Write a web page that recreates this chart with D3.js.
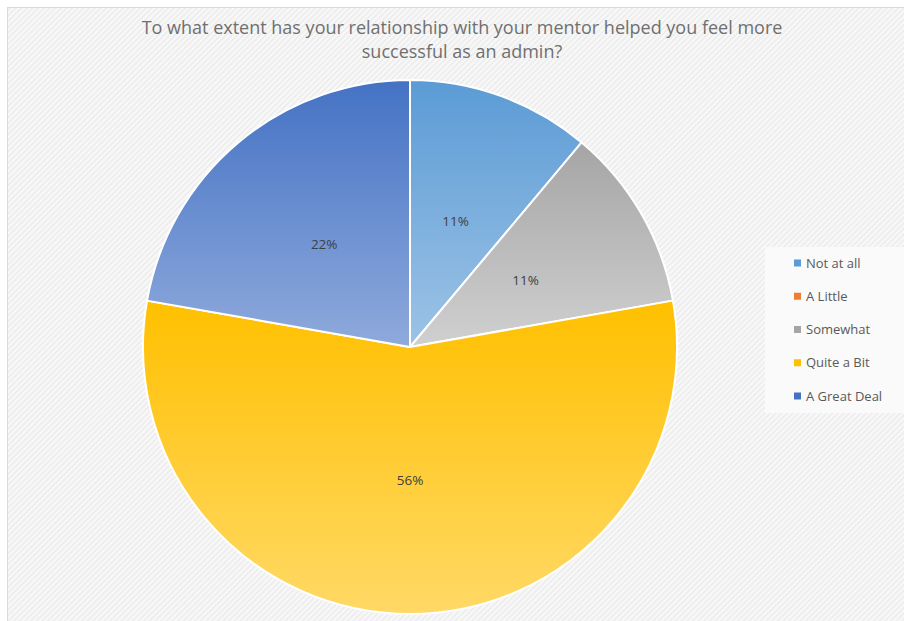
<!DOCTYPE html>
<html>
<head>
<meta charset="utf-8">
<script src="https://cdn.jsdelivr.net/npm/d3@7"></script>
<style>
  body { margin: 0; background: #fff; }
  svg { display: block; }
</style>
</head>
<body>
<svg id="chart"></svg>
<script>
// Survey pie: mentor relationship and feeling successful as an admin
var categories = ['Not at all', 'A Little', 'Somewhat', 'Quite a Bit', 'A Great Deal'];
var counts = [1, 0, 1, 5, 2];
var colorsTop = ['#5B9BD5', '#ED7D31', '#A5A5A5', '#FFC000', '#4472C4'];
var colorsBottom = ['#9DC3E6', '#F4B183', '#D0D0D0', '#FFD966', '#8FAADC'];
var titleLines = ['To what extent has your relationship with your mentor helped you feel more',
	'successful as an admin?'];

var W = 904, H = 621;
var svg = d3.select('#chart').attr('width', W).attr('height', H);
var defs = svg.append('defs');

var hatch = defs.append('pattern')
	.attr('id', 'hatch')
	.attr('patternUnits', 'userSpaceOnUse')
	.attr('width', 4).attr('height', 4)
	.attr('patternTransform', 'rotate(-45)');
hatch.append('rect').attr('width', 4).attr('height', 4).attr('fill', '#f8f8f8');
hatch.append('rect').attr('width', 4).attr('height', 1.5).attr('fill', '#ebebeb');

categories.forEach(function(c, i) {
	var g = defs.append('linearGradient')
		.attr('id', 'grad' + i)
		.attr('x1', 0).attr('y1', 0).attr('x2', 0).attr('y2', 1);
	g.append('stop').attr('offset', '0%').attr('stop-color', colorsTop[i]);
	g.append('stop').attr('offset', '100%').attr('stop-color', colorsBottom[i]);
});

// chart area
svg.append('rect')
	.attr('x', 7.5).attr('y', 7.5)
	.attr('width', W).attr('height', H)
	.attr('fill', 'url(#hatch)')
	.attr('stroke', '#d9d9d9');

svg.append('g')
	.selectAll('text')
	.data(titleLines)
	.join('text')
		.attr('x', 462)
		.attr('y', function(d, i) { return 34 + i * 24; })
		.attr('text-anchor', 'middle')
		.attr('font-family', '"Open Sans", sans-serif')
		.attr('font-size', 18)
		.attr('fill', '#707070')
		.text(function(d) { return d; });

var cx = 410, cy = 347, r = 267;
var data = categories.map(function(c, i) { return {name: c, value: counts[i], i: i}; });
var total = d3.sum(counts);

var pie = d3.pie().sort(null).value(function(d) { return d.value; });
var arc = d3.arc().innerRadius(0).outerRadius(r);
var labelArc = d3.arc().innerRadius(r * 0.5).outerRadius(r * 0.5);

var gPie = svg.append('g').attr('transform', 'translate(' + cx + ',' + cy + ')');
var arcs = pie(data).filter(function(d) { return d.value > 0; });

gPie.selectAll('path')
	.data(arcs)
	.join('path')
		.attr('d', arc)
		.attr('fill', function(d) { return 'url(#grad' + d.data.i + ')'; })
		.attr('stroke', '#fff')
		.attr('stroke-width', 2);

gPie.selectAll('.lbl')
	.data(arcs)
	.join('text')
		.attr('class', 'lbl')
		.attr('transform', function(d) { return 'translate(' + labelArc.centroid(d) + ')'; })
		.attr('text-anchor', 'middle')
		.attr('dy', '0.35em')
		.attr('font-family', '"Open Sans", "DejaVu Sans", sans-serif')
		.attr('font-size', 13.5)
		.attr('fill', '#404040')
		.text(function(d) { return Math.round(d.value / total * 100) + '%'; });

// legend
var legend = svg.append('g');
legend.append('rect')
	.attr('x', 765).attr('y', 247)
	.attr('width', 145).attr('height', 166)
	.attr('fill', '#fafafa');

var ly = d3.scalePoint().domain(categories).range([263, 396]);
var rows = legend.selectAll('.row')
	.data(categories)
	.join('g')
		.attr('class', 'row')
		.attr('transform', function(d) { return 'translate(794,' + ly(d) + ')'; });
rows.append('rect')
	.attr('x', 0).attr('y', -3.5)
	.attr('width', 7).attr('height', 7)
	.attr('fill', function(d, i) { return colorsTop[i]; });
rows.append('text')
	.attr('x', 12)
	.attr('dy', '0.35em')
	.attr('font-family', '"Open Sans", "DejaVu Sans", sans-serif')
	.attr('font-size', 13)
	.attr('fill', '#595959')
	.text(function(d) { return d; });
</script>
</body>
</html>
